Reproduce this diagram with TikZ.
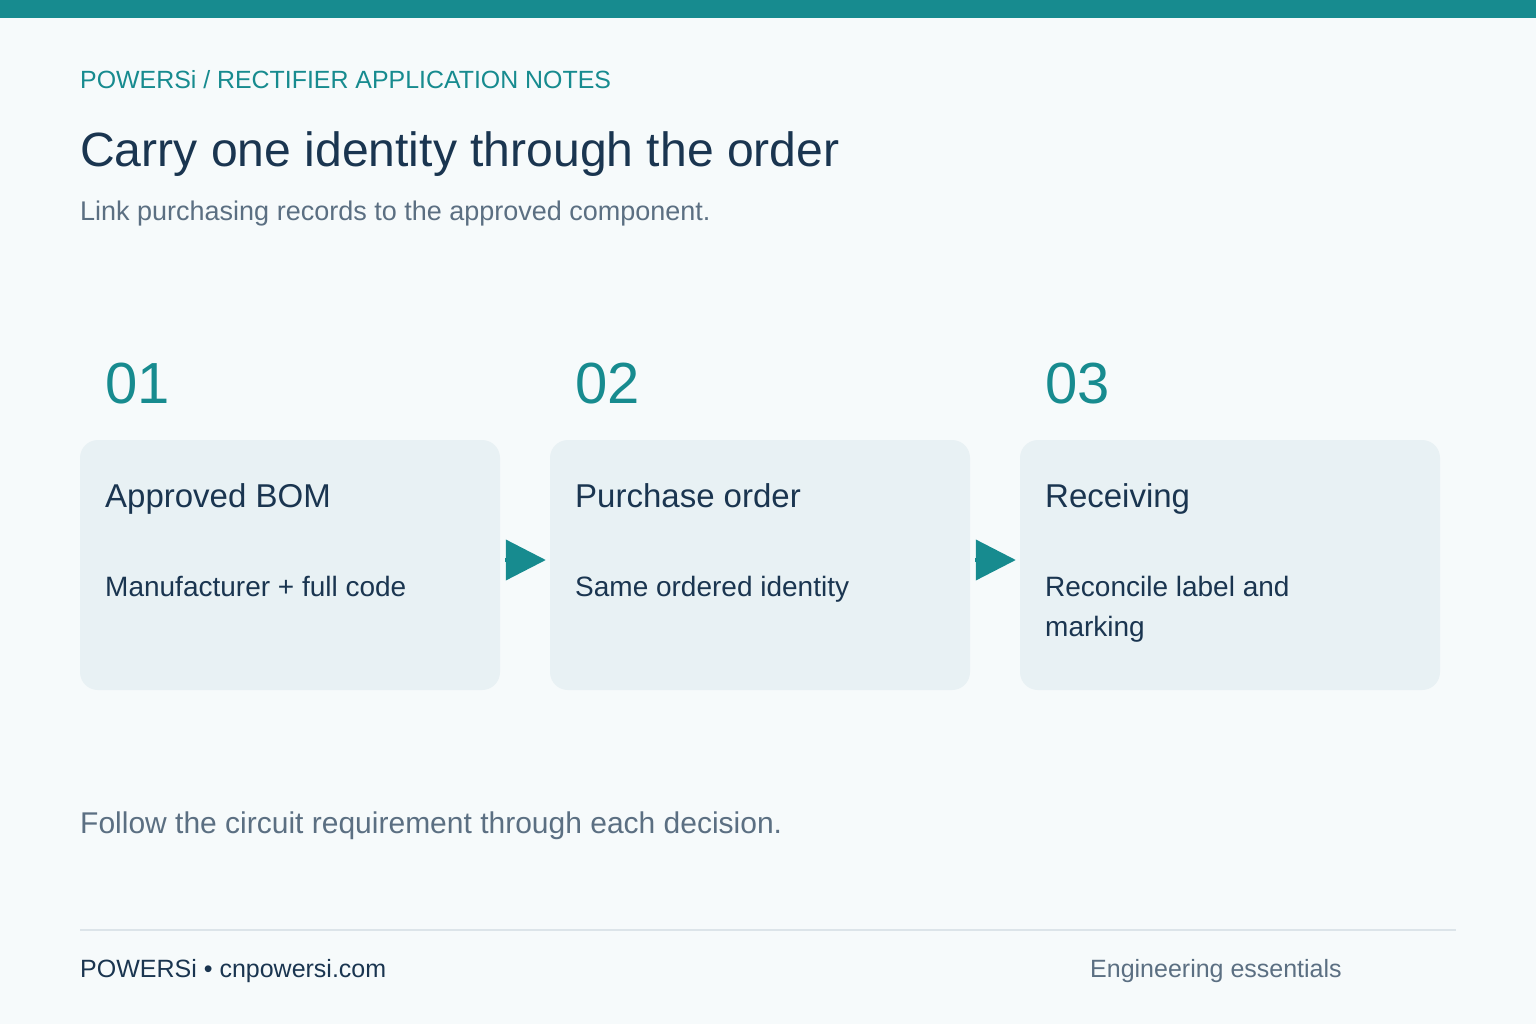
\documentclass[tikz,border=0pt]{standalone}
\usepackage{fontspec}
\setmainfont{Liberation Sans}
\usepackage{tikz}
\usetikzlibrary{arrows.meta,positioning,calc}

\definecolor{teal}{HTML}{178B8F}
\definecolor{pagebg}{HTML}{F6FAFB}
\definecolor{boxfill}{HTML}{E8F1F4}
\definecolor{ink}{HTML}{1A3550}
\definecolor{muted}{HTML}{5B6F82}
\definecolor{rule}{HTML}{DCE4E9}

\begin{document}
\begin{tikzpicture}[
    x = 1pt, y = -1pt,
    txt/.style={
        anchor = base west,
        inner sep = 0pt, % no padding
        align = left
      },
    stepbox/.style={
        rectangle, % shape
        minimum width = 420pt, minimum height = 250pt, %size
        rounded corners = 18pt,
        fill = boxfill,
        draw = none
      },
    stepnum/.style={txt, text = teal, font = \fontsize{58}{64}\selectfont},
    stephead/.style={txt, text = ink, font = \fontsize{33}{38}\selectfont},
    stepbody/.style={txt, text = ink, font = \fontsize{28}{40}\selectfont},
    flow/.style={
        draw = teal, line width = 4pt,
        -{Triangle[length=40pt,width=40pt]},
        shorten < = 5pt, shorten > = 4pt
      }]
  % background and top band
  \fill [pagebg] (0,0) rectangle (1536,1024);
  \useasboundingbox (0,0) rectangle (1536,1024);
  \fill [teal] (0,0) rectangle (1536,18);

  % heading
  \node [txt, text = teal, font = \fontsize{24.9}{30}\selectfont] (kicker) at (80,89) {POWERSi / RECTIFIER APPLICATION NOTES};
  \node [txt, text = ink, font = \fontsize{48.1}{56}\selectfont] (title) at (80,167) {Carry one identity through the order};
  \node [txt, text = muted, font = \fontsize{27}{32}\selectfont] (subtitle) at (80,221) {Link purchasing records to the approved component.};

  % steps
  \node [stepbox] (bom) at (290,565) {};
  \node [stepbox] (po)  at (760,565) {};
  \node [stepbox] (recv) at (1230,565) {};

  \node [stepnum] (n1) at (105,403) {01};
  \node [stepnum] (n2) at (575,403) {02};
  \node [stepnum] (n3) at (1045,403) {03};

  \node [stephead] (h1) at (105,507) {Approved BOM};
  \node [stephead] (h2) at (575,507) {Purchase order};
  \node [stephead] (h3) at (1045,507) {Receiving};

  \node [stepbody] (t1) at (105,596) {Manufacturer + full code};
  \node [stepbody] (t2) at (575,596) {Same ordered identity};
  \node [stepbody] (t3) at (1045,636) {Reconcile label and\\marking};% base = last line

  \draw [flow] ([yshift=5pt]bom.east) -- ([yshift=5pt]po.west);
  \draw [flow] ([yshift=5pt]po.east) -- ([yshift=5pt]recv.west);

  % closing note and footer
  \node [txt, text = muted, font = \fontsize{30}{34}\selectfont] (note) at (80,833) {Follow the circuit requirement through each decision.};
  \coordinate (ruleL) at (80,930);
  \coordinate (ruleR) at (1456,930);
  \draw [rule, line width = 2pt] (ruleL) -- (ruleR);
  \node [txt, text = ink, font = \fontsize{25}{30}\selectfont] (brand) at (80,977) {POWERSi • cnpowersi.com};
  \node [txt, text = muted, font = \fontsize{25}{30}\selectfont] (tag) at (1090,977) {Engineering essentials};
\end{tikzpicture}
\end{document}
